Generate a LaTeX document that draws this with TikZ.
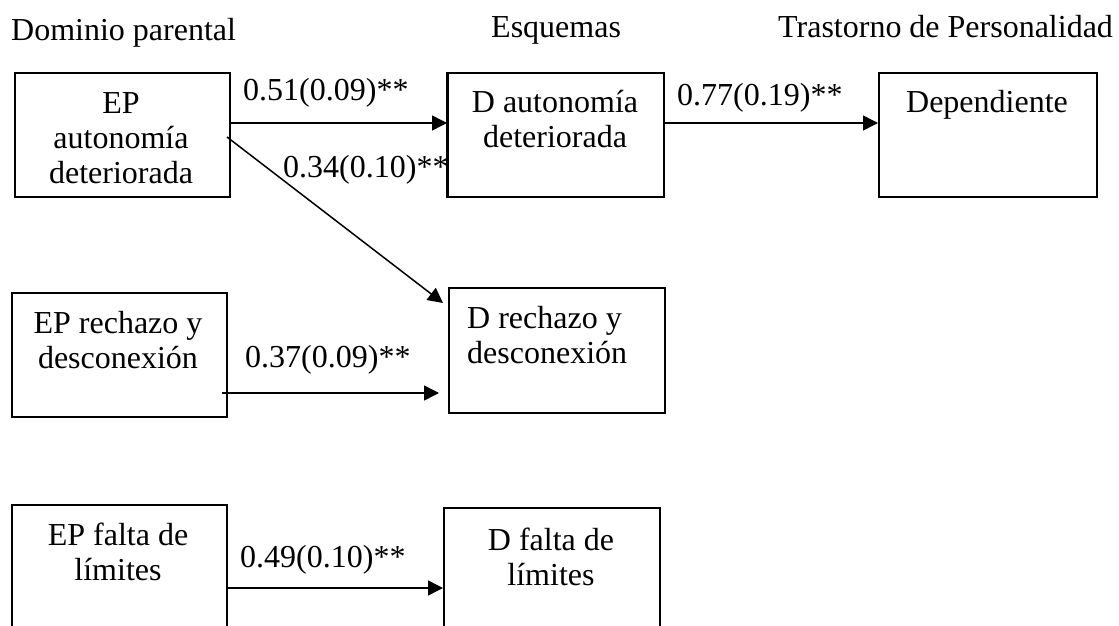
\documentclass[tikz,border=0pt]{standalone}
\usepackage{fontspec}
\setmainfont{Liberation Serif}
\usetikzlibrary{arrows.meta}
\begin{document}
\begin{tikzpicture}[x=1pt,y=-1pt,
  txt/.style={font=\fontsize{32}{35}\selectfont, inner sep=0pt},
  boxtxt/.style={txt, align=center, anchor=base},
  coef/.style={txt, anchor=base west},
  framebox/.style={draw, line width=1.8pt, inner sep=0pt},
  path/.style={line width=1.5pt, -{Triangle[length=15pt,width=15pt]}}]
\useasboundingbox (0,0) rectangle (1119,626);
\clip (0,0) rectangle (1119,626);

% column headings
\node[txt, anchor=base west] (h1) at (11,41) {Dominio parental};
\node[txt, anchor=base west] (h2) at (491,38) {Esquemas};
\node[txt, anchor=base west] (h3) at (778,38) {Trastorno de Personalidad};

% boxes (corners)
\node[framebox, minimum width=215pt, minimum height=124pt, anchor=north west] (ep1) at (14,72) {};
\node[framebox, minimum width=216pt, minimum height=124pt, anchor=north west] (d1) at (447,72) {};
\node[framebox, minimum width=218pt, minimum height=124pt, anchor=north west] (dep) at (878,72) {};
\node[framebox, minimum width=215pt, minimum height=124pt, anchor=north west] (ep2) at (11,292) {};
\node[framebox, minimum width=216pt, minimum height=125pt, anchor=north west] (d2) at (448,287) {};
\node[framebox, minimum width=215pt, minimum height=160pt, anchor=north west] (ep3) at (11,504) {};
\node[framebox, minimum width=216pt, minimum height=160pt, anchor=north west] (d3) at (443,507) {};

% box texts (anchored at the baseline of the last line)
\node[boxtxt] (ep1t) at (121,183) {EP\\autonomía\\deteriorada};
\node[boxtxt] (d1t) at (555,147) {D autonomía\\deteriorada};
\node[boxtxt] (dept) at (987,112) {Dependiente};
\node[boxtxt] (ep2t) at (118,368) {EP rechazo y\\desconexión};
\node[txt, align=left, anchor=base west] (d2t) at (467,363) {D rechazo y\\desconexión};
\node[boxtxt] (ep3t) at (118,580) {EP falta de\\límites};
\node[boxtxt] (d3t) at (551,585) {D falta de\\límites};

% connector end points
\coordinate (a1s) at (229,123);
\coordinate (a1e) at (447,123);
\coordinate (a2s) at (663,123);
\coordinate (a2e) at (878,123);
\coordinate (a3s) at (227,137);
\coordinate (a3e) at (443,303);
\coordinate (a4s) at (222,393);
\coordinate (a4e) at (439,393);
\coordinate (a5s) at (226,588);
\coordinate (a5e) at (443,588);

\draw[path] (a1s) -- (a1e);
\draw[path] (a2s) -- (a2e);
\draw[path] (a3s) -- (a3e);
\draw[path] (a4s) -- (a4e);
\draw[path] (a5s) -- (a5e);

% path coefficients
\node[coef] (c1) at (243,100) {0.51(0.09)**};
\node[coef] (c2) at (283,177) {0.34(0.10)**};
\node[coef] (c3) at (677,105) {0.77(0.19)**};
\node[coef] (c4) at (245,367) {0.37(0.09)**};
\node[coef] (c5) at (240,567) {0.49(0.10)**};

% box outline redrawn over the label it overlaps
\draw[line width=1.8pt] (d1.north west) -- (d1.south west);
\end{tikzpicture}
\end{document}
